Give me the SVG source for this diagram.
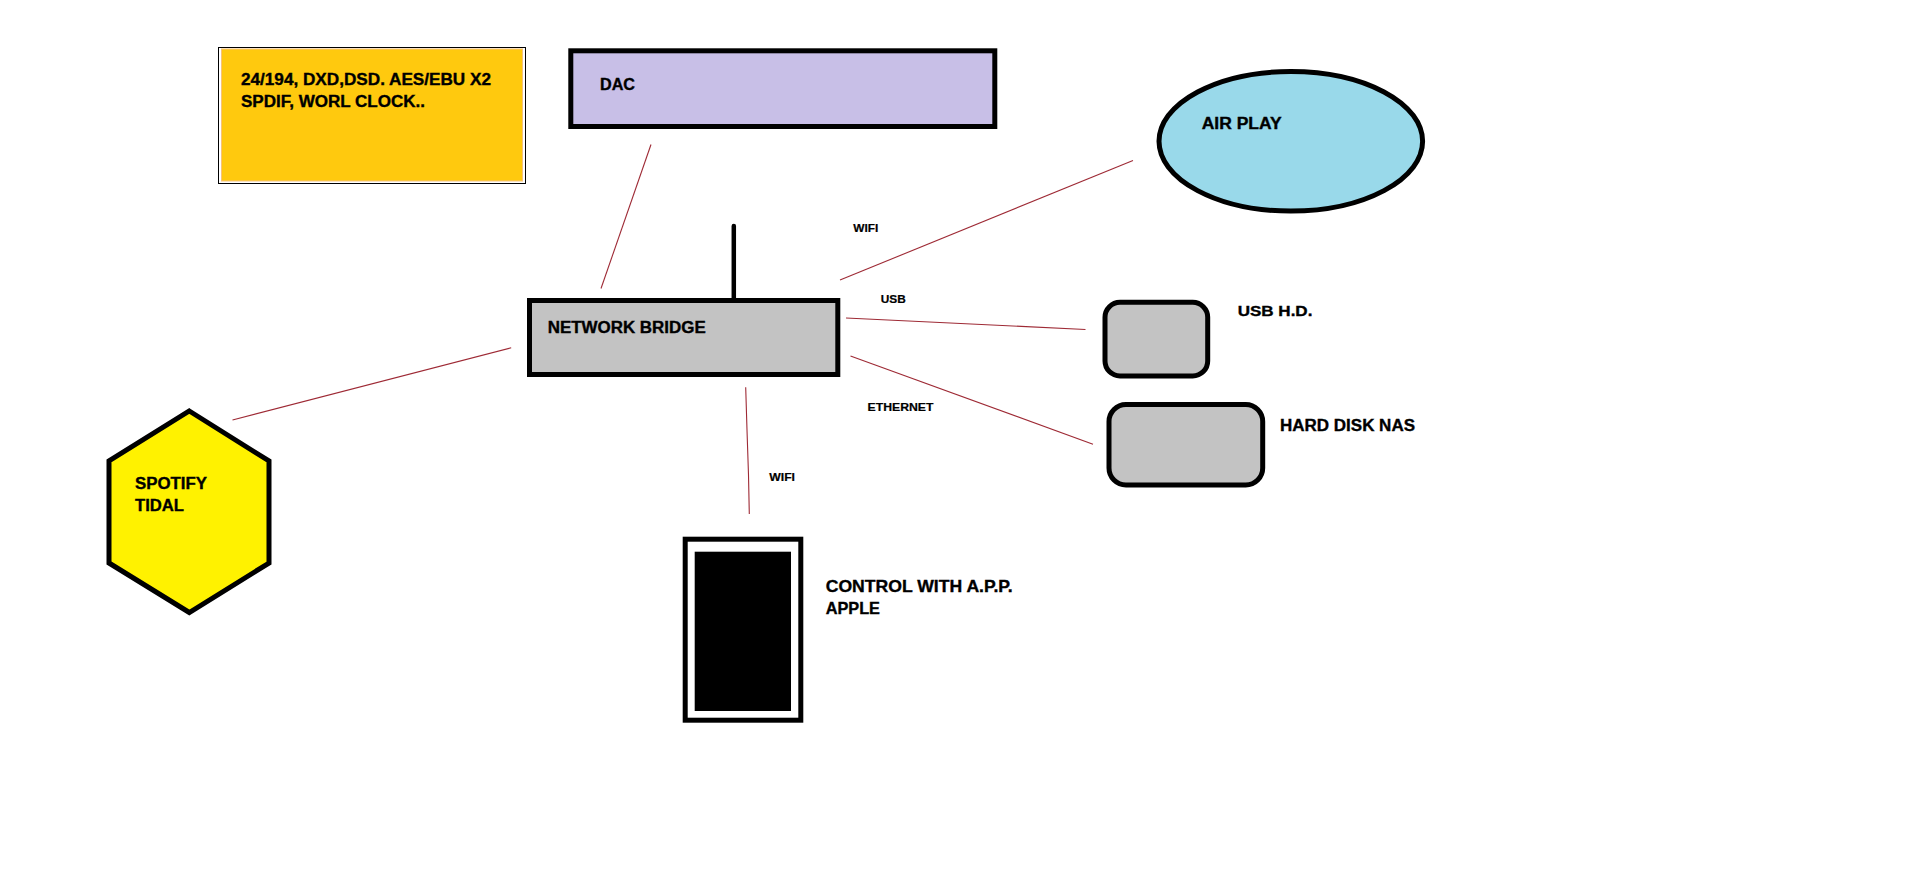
<svg xmlns="http://www.w3.org/2000/svg" width="1913" height="874" viewBox="0 0 1913 874">
<style>
.t{font-family:"Liberation Sans",Arial,sans-serif;font-weight:bold;fill:#000;stroke:#000;stroke-width:0.35;}
.b{font-size:16px;}
.s{font-size:11px;stroke-width:0.2;}
.c{stroke:#9E2A35;stroke-width:1.1;fill:none;}
.k{stroke:#000;stroke-width:5;}
</style>
<rect width="1913" height="874" fill="#fff"/>
<g id="connectors">
<line class="c" x1="651" y1="144.5" x2="601" y2="288.5"/>
<line class="c" x1="1133" y1="160.5" x2="840" y2="280"/>
<line class="c" x1="846" y1="318" x2="1085.5" y2="329.5"/>
<line class="c" x1="850.5" y1="356" x2="1093" y2="444.2"/>
<line class="c" x1="511.2" y1="347.8" x2="232.5" y2="420"/>
<polyline class="c" points="745.7,387.3 747,430 748.5,475 749.3,514"/>
<text class="t s" x="853.3" y="231.7" textLength="25" lengthAdjust="spacingAndGlyphs">WIFI</text>
<text class="t s" x="880.7" y="303.3" textLength="25" lengthAdjust="spacingAndGlyphs">USB</text>
<text class="t s" x="867.5" y="411" textLength="66" lengthAdjust="spacingAndGlyphs">ETHERNET</text>
<text class="t s" x="769.3" y="480.7" textLength="25.7" lengthAdjust="spacingAndGlyphs">WIFI</text>
</g>
<g id="specs">
<rect x="218.5" y="47.5" width="307" height="136" fill="#fff" stroke="#000" stroke-width="1"/>
<rect x="221.5" y="49" width="301" height="132" fill="#FFC90E" stroke="#F7C27A" stroke-width="1"/>
<text class="t b" x="241" y="85" textLength="250" lengthAdjust="spacingAndGlyphs">24/194, DXD,DSD. AES/EBU X2</text>
<text class="t b" x="241" y="107" textLength="184" lengthAdjust="spacingAndGlyphs">SPDIF, WORL CLOCK..</text>
</g>
<g id="dac">
<rect class="k" x="570.8" y="50.8" width="424" height="75.7" fill="#C8BFE7"/>
<text class="t b" x="600" y="90" textLength="35" lengthAdjust="spacingAndGlyphs">DAC</text>
</g>
<g id="airplay">
<ellipse class="k" cx="1290.8" cy="141.3" rx="131.8" ry="69.8" fill="#99D9EA" stroke-width="4.5"/>
<text class="t b" x="1201.7" y="129" textLength="80" lengthAdjust="spacingAndGlyphs">AIR PLAY</text>
</g>
<g id="bridge">
<line x1="733.8" y1="226" x2="733.8" y2="300" stroke="#000" stroke-width="4.5" stroke-linecap="round"/>
<rect class="k" x="529.5" y="300.5" width="308.3" height="74" fill="#C3C3C3" stroke-width="4.5"/>
<text class="t b" x="547.7" y="332.7" textLength="158" lengthAdjust="spacingAndGlyphs">NETWORK BRIDGE</text>
</g>
<g id="usbhd">
<rect class="k" x="1105" y="302.3" width="102.7" height="73.7" rx="15" ry="15" fill="#C3C3C3" stroke-width="4.5"/>
<text class="t" x="1237.7" y="315.7" font-size="15" textLength="74.7" lengthAdjust="spacingAndGlyphs">USB H.D.</text>
</g>
<g id="nas">
<rect class="k" x="1109" y="404.6" width="153.7" height="80.4" rx="17" ry="17" fill="#C3C3C3" stroke-width="4.5"/>
<text class="t b" x="1280" y="430.7" textLength="135" lengthAdjust="spacingAndGlyphs">HARD DISK NAS</text>
</g>
<g id="streaming">
<polygon class="k" points="189.3,411 269,461 269,563 189.3,612.5 109,563 109,461" fill="#FFF200"/>
<text class="t b" x="135" y="489" textLength="72" lengthAdjust="spacingAndGlyphs">SPOTIFY</text>
<text class="t b" x="135" y="510.7" textLength="49" lengthAdjust="spacingAndGlyphs">TIDAL</text>
</g>
<g id="control">
<rect class="k" x="685.2" y="539.2" width="115.6" height="181" fill="#fff"/>
<rect x="694.7" y="551.7" width="96.3" height="159.3" fill="#000"/>
<text class="t" x="825.7" y="592.3" font-size="16.5" textLength="187" lengthAdjust="spacingAndGlyphs">CONTROL WITH A.P.P.</text>
<text class="t" x="825.7" y="614" font-size="16.5" textLength="54.3" lengthAdjust="spacingAndGlyphs">APPLE</text>
</g>
</svg>
